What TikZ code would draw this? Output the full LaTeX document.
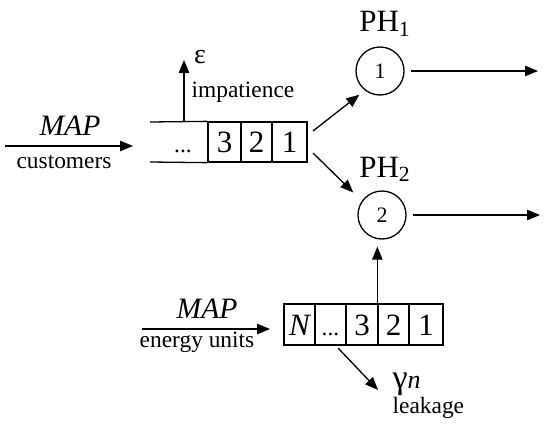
\documentclass[tikz,border=0pt]{standalone}
\usepackage{fontspec}
\setmainfont{Liberation Serif}
\usetikzlibrary{arrows.meta}
\begin{document}
\begin{tikzpicture}[x=0.5pt,y=-0.5pt,
  line width=0.65pt,
  arr/.style={-{Triangle[length=6.5pt,width=5.2pt]}},
  txt/.style={inner sep=0pt,anchor=base,font=\fontsize{11.7}{14}\selectfont},
  cell/.style={draw,inner sep=0pt,minimum height=20pt,text height=10.5pt,text depth=0pt,font=\fontsize{15.5}{18}\selectfont},
  ecell/.style={draw,inner sep=0pt,minimum height=20.5pt,text height=10.5pt,text depth=0pt,font=\fontsize{15.5}{18}\selectfont},
  srv/.style={draw,circle,inner sep=0pt,minimum size=24pt,font=\fontsize{11}{13}\selectfont},
  ph/.style={inner sep=0pt,anchor=base,font=\fontsize{15.5}{18}\selectfont},
  map/.style={inner sep=0pt,anchor=base,font=\fontsize{14.8}{17}\selectfont\itshape}]
\useasboundingbox (0,0) rectangle (550,423);
% customer queue
\node[cell,minimum width=16.5pt] (q3) at (224.5,142) {3};
\node[cell,minimum width=15.5pt] (q2) at (256.5,142) {2};
\node[cell,minimum width=17.5pt] (q1) at (289.5,142) {1};
\draw (150,122) -- (q3.north west);
\draw (150,162) -- (q3.south west);
\node[txt] (qd) at (183,152) {...};
% customer arrival
\coordinate (ca0) at (5,146);
\coordinate (ca1) at (133,146);
\draw[arr] (ca0) -- (ca1);
\node[map] (mapc) at (70,135) {MAP};
\node[txt] (cust) at (64,168) {customers};
% impatience
\coordinate (im0) at (184,122);
\coordinate (im1) at (184,60);
\draw[arr] (im0) -- (im1);
\node[txt,font=\fontsize{14}{16}\selectfont] (eps) at (200,63) {ε};
\node[txt] (imp) at (243,97) {impatience};
% servers
\node[srv] (c1) at (380,71) {1};
\node[srv] (c2) at (382,215) {2};
\node[ph] (ph1) at (385,32) {PH\textsubscript{1}};
\node[ph] (ph2) at (385,177) {PH\textsubscript{2}};
\coordinate (s1) at (313,131);
\coordinate (s2) at (313,153);
\draw[arr,shorten >=3.5pt] (s1) -- (c1.232.8);
\draw[arr,shorten >=6pt] (s2) -- (c2.145.4);
\coordinate (o1) at (538,71);
\coordinate (o2) at (540,215);
\draw[arr,shorten <=3pt] (c1) -- (o1);
\draw[arr,shorten <=3pt] (c2) -- (o2);
% energy queue
\node[ecell,minimum width=15.5pt,font=\fontsize{15.5}{18}\selectfont\itshape] (eN) at (299.5,324.5) {N};
\node[ecell,minimum width=15.5pt,font=\fontsize{11.7}{14}\selectfont] (ed) at (330.5,324.5) {...};
\node[ecell,minimum width=16pt] (e3) at (362,324.5) {3};
\node[ecell,minimum width=15.5pt] (e2) at (393.5,324.5) {2};
\node[ecell,minimum width=17pt] (e1) at (426,324.5) {1};
\coordinate (ea0) at (142,329);
\coordinate (ea1) at (270,329);
\draw[arr] (ea0) -- (ea1);
\node[map] (mape) at (207,318) {MAP};
\node[txt] (eu) at (197,347) {energy units};
\draw[arr,shorten >=3.5pt] (e2.north west) -- (e2.north west |- c2.south);
% leakage
\coordinate (l0) at (338,348);
\coordinate (l1) at (378,390);
\draw[arr] (l0) -- (l1);
\node[txt,anchor=base west,font=\fontsize{17}{19}\selectfont] (gam) at (392,388) {γ{\fontsize{13}{15}\selectfont\itshape n}};
\node[txt,anchor=base west] (leak) at (392,413) {leakage};
\end{tikzpicture}
\end{document}
